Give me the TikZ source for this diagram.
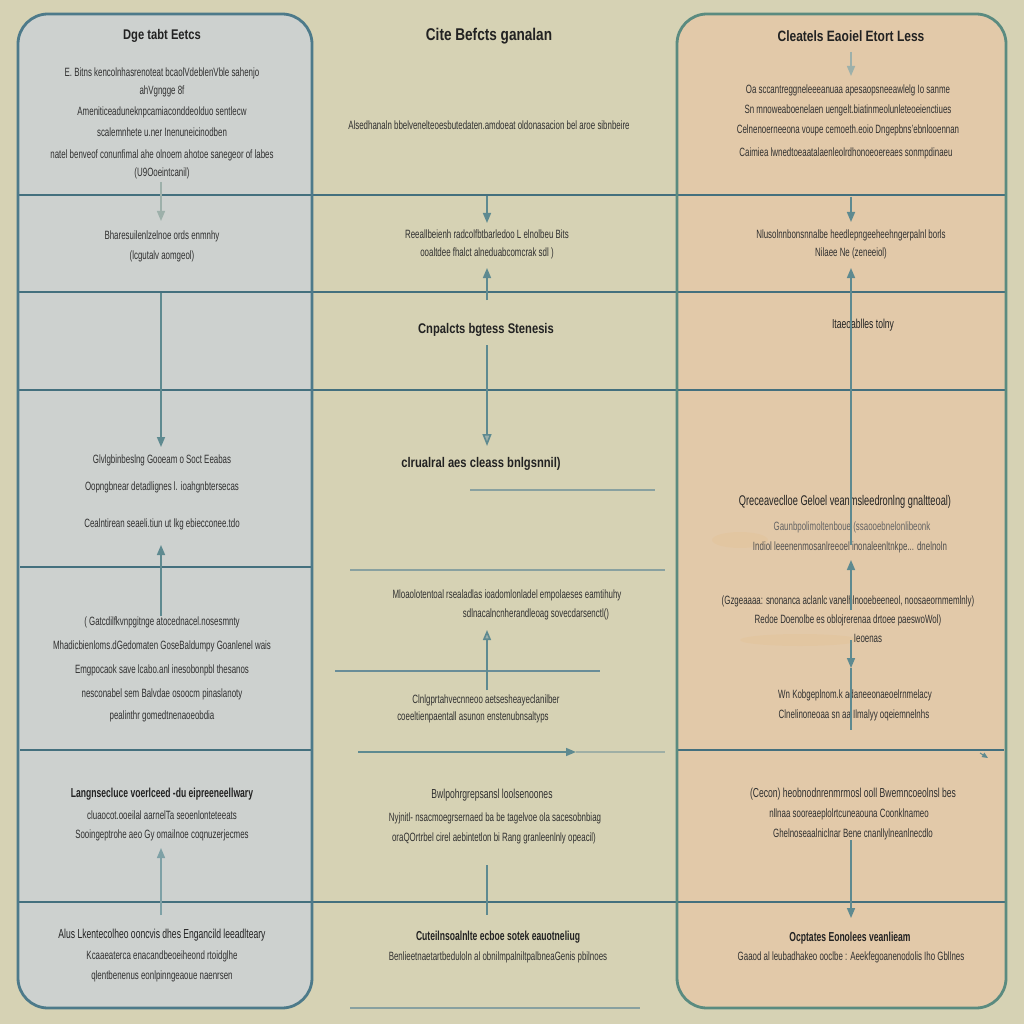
\documentclass[tikz,border=0pt]{standalone}
\usepackage{fontspec}
\setmainfont{Liberation Sans}[FakeStretch=0.66]
\newfontfamily\titlefont{Liberation Sans}[FakeStretch=0.8]
\usetikzlibrary{arrows.meta}
\definecolor{bg}{HTML}{D6D2B4}
\definecolor{leftfill}{HTML}{CDD1CF}
\definecolor{rightfill}{HTML}{E2C9A9}
\definecolor{leftedge}{HTML}{4D7A8A}
\definecolor{rightedge}{HTML}{5A8B80}
\definecolor{divcol}{HTML}{44707E}
\definecolor{conncol}{HTML}{5E8A90}
\definecolor{fadecol}{HTML}{9DB0AA}
\definecolor{txt}{HTML}{303030}
\definecolor{ttxt}{HTML}{222222}
\definecolor{glow}{HTML}{E8B46A}
\tikzset{
  body/.style={font=\fontsize{12}{14}\selectfont, text=txt, inner sep=0pt},
  ttl/.style={font=\titlefont\bfseries\fontsize{17}{19}\selectfont, text=ttxt, inner sep=0pt},
  sub/.style={font=\bfseries\fontsize{13}{15}\selectfont, text=ttxt, inner sep=0pt},
  divider/.style={draw=divcol, line width=2.6pt},
  thinline/.style={draw=divcol!80, line width=1.6pt},
  conn/.style={draw=conncol, line width=1.6pt, -{Triangle[length=10pt,width=8pt]}},
  fconn/.style={draw=fadecol, line width=1.4pt, -{Triangle[length=10pt,width=8pt]}},
  plainconn/.style={draw=conncol, line width=1.6pt},
}
\begin{document}
\begin{tikzpicture}[x=1pt,y=-1pt]
\useasboundingbox (0,0) rectangle (1024,1024);
\fill[bg] (0,0) rectangle (1024,1024);
% column boxes
\fill[leftfill, rounded corners=30pt] (18,14) rectangle (312,1008);
\fill[rightfill, rounded corners=30pt] (677,14) rectangle (1006,1008);
% glow patches
\fill[glow, opacity=0.12] (740,540) ellipse (28pt and 8pt);
\fill[glow, opacity=0.12] (800,640) ellipse (60pt and 6pt);
% dividers
\coordinate (hA1) at (18,195); \coordinate (hA2) at (1006,195);
\coordinate (hB1) at (18,292); \coordinate (hB2) at (1006,292);
\coordinate (hC1) at (18,390); \coordinate (hC2) at (1006,390);
\coordinate (hD1) at (20,567); \coordinate (hD2) at (312,567);
\coordinate (hE1) at (20,750); \coordinate (hE2) at (312,750);
\coordinate (hF1) at (677,750); \coordinate (hF2) at (1004,750);
\coordinate (hG1) at (18,902); \coordinate (hG2) at (1006,902);
\draw[divider] (hA1) -- (hA2);
\draw[divider] (hB1) -- (hB2);
\draw[divider] (hC1) -- (hC2);
\draw[divider] (hD1) -- (hD2);
\draw[divider] (hE1) -- (hE2);
\draw[divider] (hF1) -- (hF2);
\draw[divider] (hG1) -- (hG2);
% middle thin lines
\coordinate (mA1) at (470,490); \coordinate (mA2) at (655,490);
\coordinate (mB1) at (350,570); \coordinate (mB2) at (665,570);
\coordinate (mC1) at (335,671); \coordinate (mC2) at (600,671);
\coordinate (mD1) at (350,1008); \coordinate (mD2) at (640,1008);
\draw[thinline, draw opacity=0.7] (mA1) -- (mA2);
\draw[thinline, draw opacity=0.7] (mB1) -- (mB2);
\draw[thinline] (mC1) -- (mC2);
\draw[thinline, draw opacity=0.7] (mD1) -- (mD2);
% box outlines
\draw[leftedge, line width=2.8pt, rounded corners=30pt] (18,14) rectangle (312,1008);
\draw[rightedge, line width=2.8pt, rounded corners=30pt] (677,14) rectangle (1006,1008);

% ---------- left column texts ----------
\node[ttl, font=\titlefont\bfseries\fontsize{14}{16}\selectfont] (L0) at (162,36) {Dge tabt Eetcs};
\node[body] (L1) at (162,73) {E.\ Bitns kencolnhasrenoteat bcaolVdeblenVble sahenjo};
\node[body] (L2) at (162,91) {ahVgngge 8f};
\node[body] (L3) at (162,112) {Ameniticeaduneknpcamiaconddeolduo sentlecw};
\node[body] (L4) at (162,132) {scalemnhete u.ner Inenuneicinodben};
\node[body] (L5) at (162,155) {natel benveof conunfimal ahe olnoem ahotoe sanegeor of labes};
\node[body] (L6) at (162,173) {(U9Ooeintcanil)};
\node[body] (L7) at (162,236) {Bharesuilenlzelnoe ords enmnhy};
\node[body] (L8) at (162,256) {(lcgutalv aomgeol)};
\node[body] (L9) at (162,460) {Glvlgbinbeslng Gooeam o Soct Eeabas};
\node[body] (L10) at (162,487) {Oopngbnear detadlignes l. ioahgnbtersecas};
\node[body] (L11) at (162,524) {Cealntirean seaeli.tiun ut lkg ebiecconee.tdo};
\node[body] (L12) at (162,622) {( Gatcdilfkvnpgitnge atocednacel.nosesmnty};
\node[body] (L13) at (162,646) {Mhadicbienloms.dGedomaten GoseBaldumpy Goanlenel wais};
\node[body] (L14) at (162,670) {Emgpocaok save lcabo.anl inesobonpbl thesanos};
\node[body] (L15) at (162,694) {nesconabel sem Balvdae osoocm pinaslanoty};
\node[body] (L16) at (162,716) {pealinthr gomedtnenaoeobdia};
\node[sub] (L17) at (162,794) {Langnsecluce voerlceed -du eipreeneellwary};
\node[body] (L18) at (162,815) {cluaocot.ooeilal aarnelTa seoenlonteteeats};
\node[body] (L19) at (162,835) {Sooingeptrohe aeo Gy omailnoe coqnuzerjecmes};
\node[sub, font=\fontsize{13}{15}\selectfont] (L20) at (162,935) {Alus Lkentecolheo ooncvis dhes Engancild leeadlteary};
\node[body] (L21) at (162,956) {Kcaaeaterca enacandbeoeiheond rtoidglhe};
\node[body] (L22) at (162,976) {qlentbenenus eonlpinngeaoue naenrsen};

% ---------- middle column texts ----------
\node[ttl] (M0) at (489,36) {Cite Befcts ganalan};
\node[body] (M1) at (489,125) {Alsedhanaln bbelvenelteoesbutedaten.amdoeat oldonasacion bel aroe sibnbeire};
\node[body] (M2) at (487,234) {Reeallbeienh radcolfbtbarledoo L elnolbeu Bits};
\node[body] (M3) at (487,253) {ooaltdee fhalct alneduabcomcrak sdl )};
\node[sub, font=\titlefont\bfseries\fontsize{14}{16}\selectfont] (M4) at (486,330) {Cnpalcts bgtess Stenesis};
\node[sub, font=\titlefont\bfseries\fontsize{14}{16}\selectfont] (M5) at (481,464) {clrualral aes cleass bnlgsnnil)};
\node[body] (M6) at (507,595) {Mloaolotentoal rsealadlas ioadomlonladel empolaeses eamtihuhy};
\node[body] (M7) at (536,614) {sdlnacalncnherandleoag sovecdarsenctl()};
\node[body] (M8) at (486,700) {Clnlgprtahvecnneoo aetsesheayeclanilber};
\node[body] (M9) at (473,717) {coeeltienpaentall asunon enstenubnsaltyps};
\node[body, font=\fontsize{13}{15}\selectfont] (M10) at (492,795) {Bwlpohrgrepsansl loolsenoones};
\node[body] (M11) at (495,818) {Nyjnitl- nsacmoegrsernaed ba be tagelvoe ola sacesobnbiag};
\node[body] (M12) at (494,838) {oraQOrtrbel cirel aebintetlon bi Rang granleenlnly opeacil)};
\node[sub] (M13) at (498,937) {Cuteilnsoalnlte ecboe sotek eauotneliug};
\node[body] (M14) at (498,957) {Benlieetnaetartbeduloln al obnilmpalniltpalbneaGenis pbilnoes};

% ---------- right column texts ----------
\node[ttl, font=\titlefont\bfseries\fontsize{15}{17}\selectfont] (R0) at (851,36) {Cleatels Eaoiel Etort Less};
\node[body] (R1) at (848,90) {Oa sccantreggneleeeanuaa apesaopsneeawlelg Io sanme};
\node[body] (R2) at (848,110) {Sn mnoweaboenelaen uengelt.biatinmeolunleteoeienctiues};
\node[body] (R3) at (848,130) {Celnenoerneeona voupe cemoeth.eoio Dngepbns'ebnlooennan};
\node[body] (R4) at (846,153) {Caimiea lwnedtoeaatalaenleolrdhonoeoereaes sonmpdinaeu};
\node[body] (R5) at (851,235) {Nlusolnnbonsnnalbe heedlepngeeheehngerpalnl borls};
\node[body] (R6) at (851,253) {Nilaee Ne (zeneeiol)};
\node[body, font=\fontsize{13}{15}\selectfont, text=ttxt] (R7) at (863,325) {Itaeoablles tolny};
\node[sub, font=\fontsize{14}{16}\selectfont] (R8) at (845,502) {Qreceaveclloe Geloel veanmsleedronlng gnaltteoal)};
\node[body, text=txt!75] (R9) at (852,527) {Gaunbpolimoltenboue (ssaooebnelonlibeonk};
\node[body, text=txt!85] (R10) at (850,547) {Indiol leeenenmosanlreeoel inonaleenltnkpe... dnelnoln};
\node[body] (R11) at (848,601) {(Gzgeaaaa: snonanca aclanlc vanelhlnooebeeneol, noosaeornmemlnly)};
\node[body] (R12) at (848,620) {Redoe Doenolbe es oblojrerenaa drtoee paeswoWol)};
\node[body] (R13) at (868,638) {Ieoenas};
\node[body] (R14) at (855,695) {Wn Kobgeplnom.k adaneeonaeoelrnmelacy};
\node[body] (R15) at (854,715) {Clnelinoneoaa sn aa Ilmalyy oqeiemnelnhs};
\node[body, font=\fontsize{13}{15}\selectfont] (R16) at (853,794) {(Cecon) heobnodnrenmrmosl ooll Bwemncoeolnsl bes};
\node[body] (R17) at (849,814) {nllnaa sooreaeplolrtcuneaouna Coonklnameo};
\node[body] (R18) at (853,834) {Ghelnoseaalniclnar Bene cnanllylneanlnecdlo};
\node[sub] (R19) at (850,938) {Ocptates Eonolees veanlieam};
\node[body] (R20) at (851,957) {Gaaod al leubadhakeo ooclbe : Aeekfegoanenodolis Iho Gbllnes};

% ---------- connectors ----------
% left
\coordinate (la1) at (161,182); \coordinate (la2) at (161,221);
\coordinate (lb1) at (161,293); \coordinate (lb2) at (161,447);
\coordinate (lc1) at (161,616); \coordinate (lc2) at (161,545);
\coordinate (ld1) at (161,915); \coordinate (ld2) at (161,848);
\draw[fconn] (la1) -- (la2);
\draw[conn] (lb1) -- (lb2);
\draw[conn] (lc1) -- (lc2);
\draw[fconn, draw=conncol!80] (ld1) -- (ld2);
% middle
\coordinate (ma1) at (487,196); \coordinate (ma2) at (487,223);
\coordinate (mb1) at (487,300); \coordinate (mb2) at (487,268);
\coordinate (mc1) at (487,345); \coordinate (mc2) at (487,446);
\coordinate (md1) at (487,690); \coordinate (md2) at (487,630);
\coordinate (me1) at (487,865); \coordinate (me2) at (487,915);
\coordinate (mf1) at (358,752); \coordinate (mf2) at (576,752); \coordinate (mf3) at (665,752);
\draw[conn] (ma1) -- (ma2);
\draw[conn] (mb1) -- (mb2);
\draw[conn, -{Triangle[length=12pt,width=9pt,fill=fadecol]}] (mc1) -- (mc2);
\draw[conn, -{Triangle[length=10pt,width=8pt,fill=fadecol]}] (md1) -- (md2);
\draw[plainconn] (me1) -- (me2);
\draw[conn] (mf1) -- (mf2);
\draw[thinline, draw opacity=0.5] (mf2) -- (mf3);
% right
\coordinate (ra1) at (851,52); \coordinate (ra2) at (851,76);
\coordinate (rb1) at (851,197); \coordinate (rb2) at (851,222);
\coordinate (rc1) at (851,545); \coordinate (rc2) at (851,268);
\coordinate (rd1) at (851,610); \coordinate (rd2) at (851,560);
\coordinate (re1) at (851,640); \coordinate (re2) at (851,668); \coordinate (re3) at (851,730);
\coordinate (rf1) at (851,840); \coordinate (rf2) at (851,918);
\coordinate (rg1) at (980,753); \coordinate (rg2) at (988,758);
\draw[fconn] (ra1) -- (ra2);
\draw[conn] (rb1) -- (rb2);
\draw[conn] (rc1) -- (rc2);
\draw[conn] (rd1) -- (rd2);
\draw[conn] (re1) -- (re2);
\draw[plainconn] (re2) -- (re3);
\draw[conn] (rf1) -- (rf2);
\draw[conn, line width=1pt, -{Triangle[length=6pt,width=5pt]}] (rg1) -- (rg2);
\end{tikzpicture}
\end{document}
